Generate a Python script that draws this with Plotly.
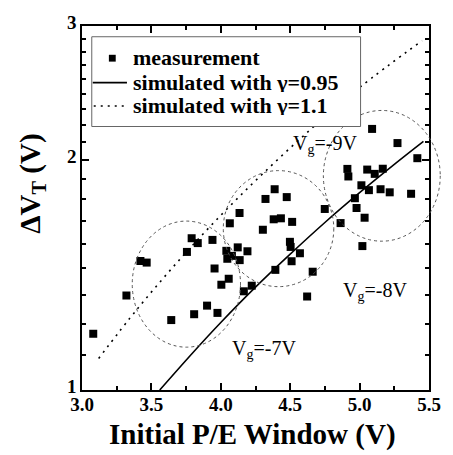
import plotly.graph_objects as go
import math

# ---- data ----
meas_x = [3.081, 3.320, 3.421, 3.466, 3.643, 3.756, 3.790, 3.834, 3.808, 3.901,
          3.940, 3.976, 3.955, 4.004, 4.040, 4.080, 4.047, 4.122, 4.136, 4.057,
          4.192, 4.223, 4.166, 4.135, 4.065, 4.303, 4.322, 4.388, 4.475, 4.381,
          4.433, 4.514, 4.498, 4.503, 4.570, 4.510, 4.393, 4.662, 4.622, 4.749,
          4.863, 5.020, 5.090, 5.273, 5.416, 4.912, 4.919, 5.055, 5.109, 5.167,
          5.013, 5.067, 5.151, 5.217, 5.371, 4.966, 4.978, 5.036]
meas_y = [1.185, 1.330, 1.476, 1.469, 1.235, 1.517, 1.581, 1.558, 1.257, 1.290,
          1.573, 1.262, 1.443, 1.374, 1.522, 1.499, 1.486, 1.538, 1.480, 1.399,
          1.520, 1.370, 1.347, 1.706, 1.654, 1.622, 1.780, 1.833, 1.790, 1.674,
          1.679, 1.661, 1.564, 1.540, 1.511, 1.475, 1.437, 1.429, 1.326, 1.727,
          1.655, 1.544, 2.199, 2.107, 2.013, 1.949, 1.905, 1.945, 1.920, 1.950,
          1.855, 1.828, 1.833, 1.816, 1.808, 1.784, 1.732, 1.682]

sim095_x = [3.56, 3.80, 4.00, 4.25, 4.50, 4.75, 5.00, 5.25, 5.46]
sim095_y = [1.000, 1.120, 1.226, 1.364, 1.507, 1.658, 1.814, 1.976, 2.118]

sim11_x = [3.12, 3.40, 3.70, 4.00, 4.30, 4.65, 5.00, 5.45]
sim11_y = [1.100, 1.278, 1.480, 1.694, 1.919, 2.198, 2.492, 2.870]

series_names = ["measurement", "simulated with γ=0.95", "simulated with γ=1.1"]

# groups (ellipses): x-range and y-range in data units
group_x0 = [3.362, 4.018, 4.739]
group_x1 = [4.142, 4.814, 5.581]
group_y0 = [1.138, 1.366, 1.567]
group_y1 = [1.665, 1.939, 2.325]

label_text = ["V<sub>g</sub>=-7V", "V<sub>g</sub>=-8V", "V<sub>g</sub>=-9V"]
label_x = [4.31, 5.11, 4.75]
label_y = [1.130, 1.345, 2.100]

x_ticks = [3.0, 3.5, 4.0, 4.5, 5.0, 5.5]
x_ticktext = ["3.0", "3.5", "4.0", "4.5", "5.0", "5.5"]
y_ticks = [1, 2, 3]
y_ticktext = ["1", "2", "3"]
y_minor = [1 + k / 9 for k in range(1, 9)] + [2 + k / 9 for k in range(1, 9)]

X_RANGE = [3.0, 5.5]
Y_RANGE_LOG = [0, math.log10(3)]

FONT = "Liberation Serif"

# plot-area geometry (pixels) used for paper-space legend placement
W, H = 453, 455
ML, MR, MT, MB = 82, 16, 17, 65
PW, PH = W - ML - MR, H - MT - MB


def xp(v):
    return (v - X_RANGE[0]) / (X_RANGE[1] - X_RANGE[0])


def yp(v):
    return (math.log10(v) - Y_RANGE_LOG[0]) / (Y_RANGE_LOG[1] - Y_RANGE_LOG[0])


def px2paper_x(px):
    return (px - ML) / PW


def px2paper_y(py):
    return (H - MB - py) / PH


fig = go.Figure()
fig.add_trace(go.Scatter(x=meas_x, y=meas_y, mode="markers", name=series_names[0],
                         showlegend=False,
                         marker=dict(symbol="square", size=8, color="black",
                                     line=dict(width=0))))
fig.add_trace(go.Scatter(x=sim095_x, y=sim095_y, mode="lines", name=series_names[1],
                         showlegend=False,
                         line=dict(color="black", width=1.6, shape="spline")))
fig.add_trace(go.Scatter(x=sim11_x, y=sim11_y, mode="lines", name=series_names[2],
                         showlegend=False,
                         line=dict(color="black", width=1.6, dash="2px,5px", shape="spline")))

for i in range(3):
    fig.add_shape(type="circle", xref="paper", yref="paper",
                  x0=xp(group_x0[i]), x1=xp(group_x1[i]),
                  y0=yp(group_y0[i]), y1=yp(group_y1[i]),
                  line=dict(color="#555555", width=1, dash="dot"), layer="above")
    fig.add_annotation(x=label_x[i], y=math.log10(label_y[i]), xref="x", yref="y",
                       text=label_text[i], showarrow=False,
                       xanchor="center", yanchor="middle",
                       font=dict(family=FONT, size=20, color="black"))

# ---- hand-built legend box ----
LEG_BOX = (92, 28, 367, 120)  # left, top, right, bottom in px
LEG_ROWS = [50, 75, 99]
fig.add_shape(type="rect", xref="paper", yref="paper",
              x0=px2paper_x(LEG_BOX[0]), x1=px2paper_x(LEG_BOX[2]),
              y0=px2paper_y(LEG_BOX[3]), y1=px2paper_y(LEG_BOX[1]),
              line=dict(color="#666666", width=1), fillcolor="white", layer="above")
# sample: square
fig.add_shape(type="rect", xref="paper", yref="paper",
              x0=px2paper_x(109.5), x1=px2paper_x(116.5),
              y0=px2paper_y(LEG_ROWS[0] + 3.5), y1=px2paper_y(LEG_ROWS[0] - 3.5),
              line=dict(width=0), fillcolor="black", layer="above")
# sample: solid line
fig.add_shape(type="line", xref="paper", yref="paper",
              x0=px2paper_x(93), x1=px2paper_x(128),
              y0=px2paper_y(LEG_ROWS[1]), y1=px2paper_y(LEG_ROWS[1]),
              line=dict(color="black", width=1.6), layer="above")
# sample: dotted line
fig.add_shape(type="line", xref="paper", yref="paper",
              x0=px2paper_x(94), x1=px2paper_x(128),
              y0=px2paper_y(LEG_ROWS[2]), y1=px2paper_y(LEG_ROWS[2]),
              line=dict(color="black", width=1.6, dash="2px,5px"), layer="above")
for name, row in zip(series_names, LEG_ROWS):
    fig.add_annotation(text="<b>%s</b>" % name, xref="paper", yref="paper",
                       x=px2paper_x(132), y=px2paper_y(row - 1), xanchor="left",
                       yanchor="middle", showarrow=False, height=20,
                       font=dict(family=FONT, size=22, color="black"))

axis_common = dict(showline=True, linecolor="black", linewidth=1.6, mirror="ticks",
                   ticks="inside", ticklen=7, tickwidth=1.5, tickcolor="black",
                   showgrid=False, zeroline=False,
                   tickfont=dict(family=FONT, size=19, color="black"))

fig.update_xaxes(range=X_RANGE, tickvals=x_ticks,
                 ticktext=["<b>%s</b>" % t for t in x_ticktext],
                 ticklabelstandoff=-4,
                 minor=dict(dtick=0.25, tick0=3.0, ticks="inside", ticklen=4,
                            tickwidth=1.5, tickcolor="black"),
                 **axis_common)
fig.update_yaxes(type="log", range=Y_RANGE_LOG, tickvals=y_ticks,
                 ticktext=["<b>%s</b>" % t for t in y_ticktext],
                 ticklabelshift=-4,
                 minor=dict(tickmode="array", tickvals=y_minor, ticks="inside",
                            ticklen=4, tickwidth=1.5, tickcolor="black"),
                 **axis_common)

fig.add_annotation(text="<b>Initial P/E Window (V)</b>", xref="paper", yref="paper",
                   x=0.491, y=-0.123, xanchor="center", yanchor="middle", showarrow=False,
                   font=dict(family=FONT, size=29, color="black"))
fig.add_annotation(text="<b>ΔV<sub>T</sub> (V)</b>", xref="paper", yref="paper",
                   x=-0.143, y=0.568, xanchor="center", yanchor="middle",
                   showarrow=False, textangle=-90,
                   font=dict(family=FONT, size=29, color="black"))

fig.update_layout(
    width=W, height=H,
    margin=dict(l=ML, r=MR, t=MT, b=MB),
    paper_bgcolor="white", plot_bgcolor="white",
    showlegend=False,
)

fig.write_html("out.html")
